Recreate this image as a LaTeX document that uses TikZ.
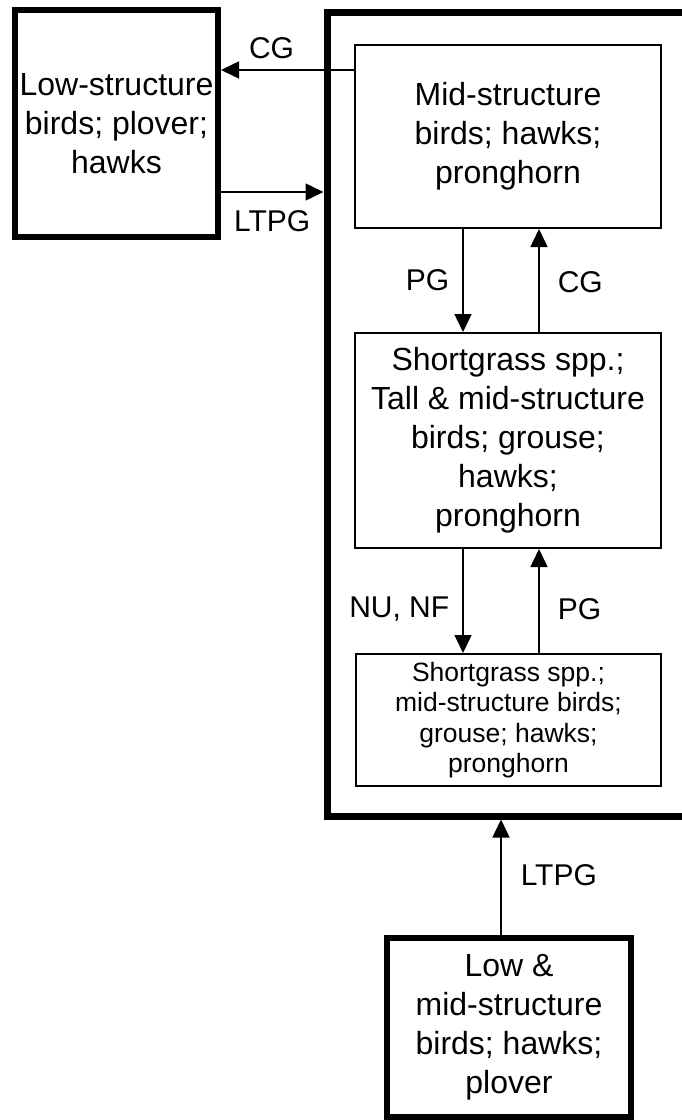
\documentclass[tikz,border=0pt]{standalone}
\usepackage{fontspec}
\setmainfont{Liberation Sans}
\usetikzlibrary{arrows.meta}
\begin{document}
\begin{tikzpicture}[x=0.5pt,y=-0.5pt,
    heavy/.style={draw,line width=3pt,inner sep=1pt,align=center,font=\fontsize{16}{19.5}\selectfont},
    state/.style={draw,line width=1pt,inner sep=1pt,align=center,font=\fontsize{16}{19.5}\selectfont},
    flow/.style={line width=0.75pt,-{Triangle[length=9pt,width=8.5pt]}},
    lbl/.style={font=\fontsize{15}{17}\selectfont,inner sep=0pt}]
    \useasboundingbox (0,0) rectangle (681,1120);
    % outer frame, cut by the right edge
    \node[draw,line width=3.5pt,minimum width=190pt,minimum height=402pt] (frame) at (517,414) {};
    \node[heavy,minimum width=101.5pt,minimum height=113.5pt] (low) at (116.5,123.5) {Low-structure\\birds; plover;\\hawks};
    \node[state,minimum width=153pt,minimum height=91.5pt] (mid) at (508,136.5) {Mid-structure\\birds; hawks;\\pronghorn};
    \node[state,minimum width=153pt,minimum height=107.5pt] (tall) at (508,440.5) {Shortgrass spp.;\\Tall \& mid-structure\\birds; grouse;\\hawks;\\pronghorn};
    \node[state,minimum width=152.5pt,minimum height=66pt,font=\fontsize{13.25}{15.25}\selectfont] (short) at (508.5,720) {Shortgrass spp.;\\mid-structure birds;\\grouse; hawks;\\pronghorn};
    \node[heavy,minimum width=122pt,minimum height=89.5pt] (lowmid) at (509,1027.5) {Low \&\\mid-structure\\birds; hawks;\\plover};
    % transitions
    \draw[flow] (mid.west |- 0,70) -- (low.east |- 0,70) node[lbl,pos=0.62,above=5pt] {CG};
    \draw[flow] (low.east |- 0,192) -- (frame.west |- 0,192) node[lbl,pos=0.5,below=9pt] {LTPG};
    \draw[flow] (mid.south -| 463,0) -- (tall.north -| 463,0) node[lbl,pos=0.5,left=6.5pt] {PG};
    \draw[flow] (tall.north -| 539,0) -- (mid.south -| 539,0) node[lbl,pos=0.48,right=9pt] {CG};
    \draw[flow] (tall.south -| 463,0) -- (short.north -| 463,0) node[lbl,pos=0.58,left=6.5pt] {NU, NF};
    \draw[flow] (short.north -| 539,0) -- (tall.south -| 539,0) node[lbl,pos=0.42,right=9pt] {PG};
    \draw[flow] (lowmid.north -| 501,0) -- (frame.south -| 501,0) node[lbl,pos=0.52,right=9.5pt] {LTPG};
\end{tikzpicture}
\end{document}
